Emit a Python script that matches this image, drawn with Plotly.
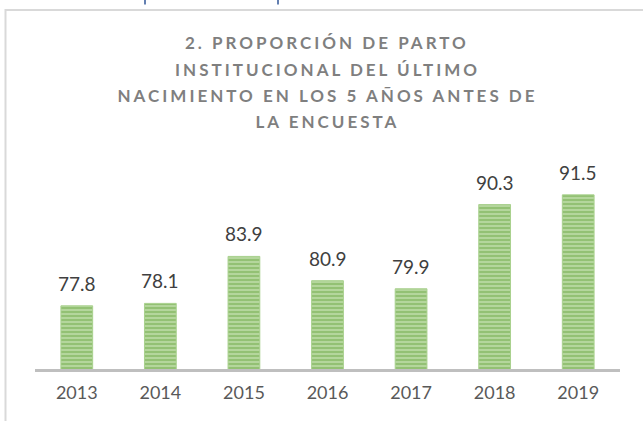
import plotly.graph_objects as go

YEARS = ["2013", "2014", "2015", "2016", "2017", "2018", "2019"]
VALUES = [77.8, 78.1, 83.9, 80.9, 79.9, 90.3, 91.5]
TITLE_LINES = [
    "2. PROPORCIÓN DE PARTO",
    "INSTITUCIONAL DEL ÚLTIMO",
    "NACIMIENTO EN LOS 5 AÑOS ANTES DE",
    "LA ENCUESTA",
]

W, H = 643, 421
L, R, T, B = 35, 23, 126, 52
PW, PH = W - L - R, H - T - B


def px_x(px):
    return (px - L) / PW


def px_y(py):
    return (H - B - py) / PH


fig = go.Figure()
fig.add_trace(go.Bar(
    x=YEARS,
    y=VALUES,
    marker=dict(
        color="#bcdba6",
        line=dict(color="#a9d18e", width=1),
        pattern=dict(shape="-", fgcolor="#6aa842", bgcolor="#bcdba6",
                     size=4, solidity=0.6),
    ),
    hoverinfo="skip",
))

annotations = []
for i, line in enumerate(TITLE_LINES):
    annotations.append(dict(
        xref="paper", yref="paper", x=px_x(327), y=px_y(43 + 26 * i),
        xanchor="center", yanchor="middle", showarrow=False,
        text=line,
        font=dict(family="Lato", size=17, color="#7f7f7f", weight="bold"),
    ))
for i, v in enumerate(VALUES):
    annotations.append(dict(
        x=i, y=v, xref="x", yref="y", yanchor="bottom", yshift=9,
        showarrow=False, text=f"{v:.1f}",
        font=dict(family="Lato", size=19, color="#404040"),
    ))

shapes = [
    dict(type="rect", xref="paper", yref="paper",
         x0=px_x(5.5), x1=px_x(700), y0=px_y(480), y1=px_y(10),
         line=dict(color="#d9d9d9", width=2), fillcolor="rgba(0,0,0,0)", layer="below"),
    dict(type="line", xref="paper", yref="paper",
         x0=px_x(145), x1=px_x(145), y0=px_y(-2), y1=px_y(4.5),
         line=dict(color="#2f5597", width=1.5)),
    dict(type="line", xref="paper", yref="paper",
         x0=px_x(278), x1=px_x(278), y0=px_y(-2), y1=px_y(4.5),
         line=dict(color="#2f5597", width=1.5)),
]

fig.update_layout(
    width=W, height=H,
    margin=dict(l=L, r=R, t=T, b=B, pad=0, autoexpand=False),
    paper_bgcolor="white", plot_bgcolor="white",
    bargap=0.62,
    showlegend=False,
    annotations=annotations,
    shapes=shapes,
    xaxis=dict(
        type="category", showgrid=False, zeroline=False, automargin=False,
        range=[-0.5, len(YEARS) - 0.5],
        showline=True, linecolor="#bfbfbf", linewidth=3,
        ticks="", ticklabelstandoff=5,
        tickfont=dict(family="Lato", size=18, color="#595959"),
    ),
    yaxis=dict(range=[70, 100], visible=False, showgrid=False, zeroline=False,
               automargin=False),
)

post = """
document.body.style.margin = '0';
document.body.style.padding = '0';
document.body.style.overflow = 'hidden';
var gd = document.getElementById('{plot_id}');
if (gd) {
  gd.querySelectorAll('g.annotation').forEach(function(g){
    var idx = parseInt(g.getAttribute('data-index'));
    if (idx < 4) {
      g.querySelectorAll('text').forEach(function(t){ t.style.letterSpacing = '3px'; });
    }
  });
}
"""

fig.write_html("out.html", post_script=post, config={"displayModeBar": False})
